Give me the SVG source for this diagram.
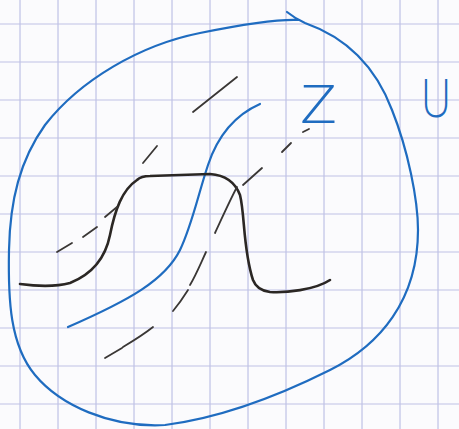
<svg xmlns="http://www.w3.org/2000/svg" width="459" height="429" viewBox="0 0 459 429">
<defs>
<style>
.grid{stroke:#bfc2e6;stroke-width:1.2;fill:none}
.blue{stroke:#1f6cc0;stroke-width:2.2;fill:none;stroke-linecap:round;stroke-linejoin:round}
.black{stroke:#2b2724;stroke-width:2.6;fill:none;stroke-linecap:round;stroke-linejoin:round}
.dash{stroke:#3a3735;stroke-width:1.8;fill:none;stroke-linecap:round}
.lbl{font-family:"Open Sans","DejaVu Sans",sans-serif;font-weight:300;fill:#1f6cc0}
</style>
</defs>
<rect width="459" height="429" fill="#fbfbfd"/>
<g id="grid" class="grid">
<path d="M20,0V429M58,0V429M96,0V429M134,0V429M172,0V429M210,0V429M248,0V429M286,0V429M324,0V429M362,0V429M400,0V429M438,0V429"/>
<path d="M0,24H459M0,62H459M0,100H459M0,138H459M0,176H459M0,214H459M0,252H459M0,290H459M0,328H459M0,366H459M0,404H459"/>
</g>
<g id="set-U">
<path class="blue" d="M287,12 C292,16 298,20 305,23 C345,37 375,65 392,110 C408,150 418,200 418,230 C418,300 380,345 330,370 C280,395 220,418 165,425 C110,428 60,405 35,375 C10,345 8,300 9,250 C10,200 20,160 45,125 C80,80 140,45 200,33 C240,25 275,19 298,20"/>
<text class="lbl" x="421" y="117" font-size="54" textLength="30" lengthAdjust="spacingAndGlyphs">U</text>
</g>
<g id="curve-Z">
<path class="blue" d="M260,104 C235,115 218,135 208,165 C198,195 192,225 180,250 C165,280 130,300 68,327"/>
<text class="lbl" x="300" y="123" font-size="53" textLength="37" lengthAdjust="spacingAndGlyphs">Z</text>
</g>
<g id="bump">
<path class="black" d="M20,284 C35,286 55,287 70,283 C90,275 105,260 110,235 C115,210 122,190 137,180 C140,177 145,176 150,176 L210,174 C225,175 235,182 240,195 C245,215 243,250 253,280 C256,288 262,291 270,292 C285,293 315,290 330,280"/>
</g>
<g id="dashed-lines" class="dash">
<path d="M57,252L72,243M83,237L97,227M105,217L117,207M143,163L157,146M193,112L237,77"/>
<path d="M303,132L309,129M282,152L291,143M243,185L262,168M237,187C230,200 222,218 215,233M206,252C200,265 196,275 190,285M188,290C183,298 178,305 173,311M153,327C143,335 133,341 123,347M122,348L105,358"/>
</g>
</svg>
